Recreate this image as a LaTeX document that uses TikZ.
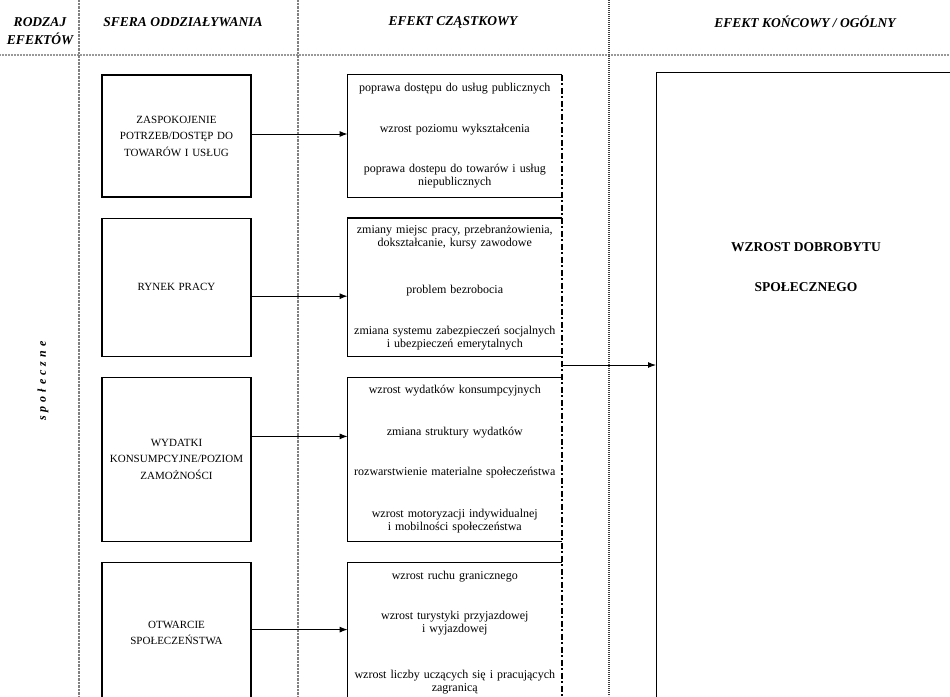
\documentclass[tikz,border=0pt]{standalone}
\usepackage{fontspec}
\setmainfont{Liberation Serif}
\usetikzlibrary{positioning, arrows.meta}

\begin{document}
\begin{tikzpicture}[x=1pt,y=-1pt]
            % Block style
            \tikzstyle{sferabox} = [rectangle, draw, line width=1.2pt, align=center, text width=141pt, minimum width=149pt, inner sep=4pt, font=\fontsize{11}{16.5}\selectfont]
            \tikzstyle{efektbox} = [rectangle, align=center, text width=206pt, minimum width=214pt, inner sep=4pt, font=\fontsize{12}{13}\selectfont]
            \tikzstyle{naglowek} = [align=center, font=\fontsize{13.5}{18}\selectfont\bfseries\itshape]
            \tikzstyle{strzalka} = [-{Latex[length=8pt,width=6pt]}, line width=1pt]

            \useasboundingbox (0,0) rectangle (950,696);

            % Column separators
            \draw[gray!80, line width=2.2pt, dash pattern=on 1pt off 0.5pt] (0,55) -- (950,55);
            \draw[gray, line width=1.2pt, dash pattern=on 0.8pt off 0.6pt] (79,0) -- (79,696);
            \draw[gray, line width=1.2pt, dash pattern=on 0.8pt off 0.6pt] (298,0) -- (298,696);
            \draw[black!75, line width=1.4pt, dash pattern=on 1.2pt off 0.8pt] (609,0) -- (609,696);

            % Headers
            \node[naglowek] (rodzaj) at (40,31) {RODZAJ\\EFEKTÓW};
            \node[naglowek] (sfera) at (183,22) {SFERA ODDZIAŁYWANIA};
            \node[naglowek] (czastkowy) at (453,22) {EFEKT CZĄSTKOWY};
            \node[naglowek] (ogolny) at (805,22) {EFEKT KOŃCOWY / OGÓLNY};
            \node[rotate=90, font=\fontsize{12}{13}\selectfont\bfseries\itshape] (spoleczne) at (43,381) {\spaceskip=4pt\relax s p o ł e c z n e};

            % Spheres of influence
            \node[sferabox, minimum height=122pt] (sfera1) at (176.5,136) {ZASPOKOJENIE\\POTRZEB/DOSTĘP DO\\TOWARÓW I USŁUG};
            \node[sferabox, minimum height=138pt, below=20pt of sfera1] (sfera2) {RYNEK PRACY};
            \node[sferabox, minimum height=164pt, below=20pt of sfera2] (sfera3) {WYDATKI\\KONSUMPCYJNE/POZIOM\\ZAMOŻNOŚCI};
            \node[sferabox, minimum height=141pt, below=20pt of sfera3] (sfera4) {OTWARCIE\\SPOŁECZEŃSTWA};

            % Partial effects
            \node[efektbox, minimum height=122pt, right=96pt of sfera1] (efekt1) {poprawa dostępu do usług publicznych\\[28pt]wzrost poziomu wykształcenia\\[27pt]poprawa dostepu do towarów i usług\\niepublicznych};
            \node[efektbox, minimum height=138pt, right=96pt of sfera2] (efekt2) {zmiany miejsc pracy, przebranżowienia,\\dokształcanie, kursy zawodowe\\[34pt]problem bezrobocia\\[28pt]zmiana systemu zabezpieczeń socjalnych\\i ubezpieczeń emerytalnych};
            \node[efektbox, minimum height=164pt, right=96pt of sfera3] (efekt3) {wzrost wydatków konsumpcyjnych\\[29pt]zmiana struktury wydatków\\[27pt]rozwarstwienie materialne społeczeństwa\\[29pt]wzrost motoryzacji indywidualnej\\i mobilności społeczeństwa};
            \node[efektbox, minimum height=141pt, right=96pt of sfera4] (efekt4) {wzrost ruchu granicznego\\[27pt]wzrost turystyki przyjazdowej\\i wyjazdowej\\[33pt]wzrost liczby uczących się i pracujących\\zagranicą};
            \foreach \i in {1,...,4}
                \draw[line width=1.2pt] (efekt\i.north east) -- (efekt\i.north west) -- (efekt\i.south west) -- (efekt\i.south east);

            % Final effect
            \node[draw, line width=1.3pt, minimum width=400pt, minimum height=700pt, anchor=north west] (koncowy) at (656,72) {};
            \node[align=center, font=\fontsize{13.5}{16}\selectfont\bfseries] (dobrobyt) at (806,267) {WZROST DOBROBYTU\\[24pt]SPOŁECZNEGO};

            % Joining line of the partial effects
            \coordinate (zbior) at (efekt1.north east |- 0,365);
            \coordinate (dol) at (efekt1.north east |- 0,700);
            \draw[line width=1.8pt, dash pattern=on 6pt off 2.5pt on 2pt off 2.5pt] (efekt1.north east) -- (dol);

            % Connections
            \draw[strzalka] ([yshift=2pt]sfera1.east) -- ([yshift=2pt]efekt1.west);
            \draw[strzalka] ([yshift=-9pt]sfera2.east) -- ([yshift=-9pt]efekt2.west);
            \draw[strzalka] ([yshift=23pt]sfera3.east) -- ([yshift=23pt]efekt3.west);
            \draw[strzalka] ([yshift=3.5pt]sfera4.east) -- ([yshift=3.5pt]efekt4.west);
            \draw[strzalka] (zbior) -- (zbior -| koncowy.west);
        \end{tikzpicture}
\end{document}
